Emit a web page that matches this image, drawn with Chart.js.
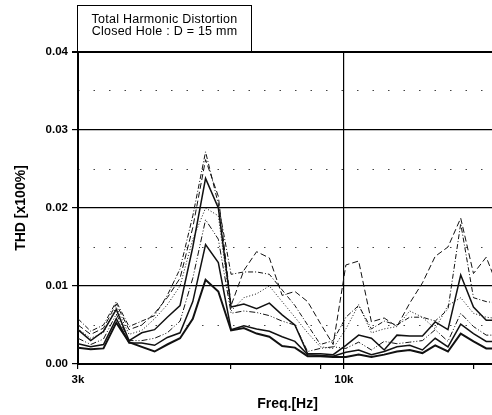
<!DOCTYPE html>
<html>
<head>
<meta charset="utf-8">
<script src="https://cdn.jsdelivr.net/npm/chart.js@4.4.1/dist/chart.umd.min.js"></script>
<style>
    body { margin: 0; background: #fff; overflow: hidden; }
    .wrap { position: relative; width: 492px; height: 415px; overflow: hidden; }
    .chart_box { position: absolute; left: 0; top: 0; width: 497px; height: 415px; }
    .legend_box {
        position: absolute;
        left: 77px;
        top: 5px;
        width: 175px;
        height: 47px;
        box-sizing: border-box;
        border: 1.5px solid #000;
        border-bottom: none;
        padding-top: 8px;
        font-family: "Liberation Sans", Arial, sans-serif;
        font-size: 12.5px;
        letter-spacing: 0.25px;
        line-height: 11.5px;
        text-align: center;
        color: #000;
        background: transparent;
    }
</style>
</head>
<body>
<div class="wrap">
    <div class="chart_box"><canvas id="thd"></canvas></div>
    <div class="legend_box">Total Harmonic Distortion<br>Closed Hole : D = 15 mm</div>
</div>
<script>
// frequencies (Hz), semitone steps from 3 kHz
const FREQS = [
    3000, 3178, 3367, 3568, 3780, 4004, 4243, 4495, 4762, 5045, 5345, 5663,
    6000, 6357, 6735, 7135, 7560, 8009, 8485, 8990, 9524, 10091, 10691, 11326,
    12000, 12714, 13470, 14270, 15119, 16018, 16970, 17980, 19049, 20182,
];

// THD readings, one array per curve
const S1 = [
    0.0021, 0.0019, 0.002, 0.0053, 0.0028, 0.0022, 0.0016, 0.0025, 0.0033, 0.0058, 0.0108, 0.0093,
    0.0043, 0.0046, 0.0039, 0.0035, 0.0023, 0.0021, 0.001, 0.001, 0.0009, 0.0009, 0.0012, 0.0009,
    0.0012, 0.0016, 0.0018, 0.0014, 0.0024, 0.0016, 0.0039, 0.0029, 0.002, 0.002,
];
const S2 = [
    0.0026, 0.0022, 0.0025, 0.0058, 0.0027, 0.0027, 0.0024, 0.0034, 0.004, 0.008, 0.0153, 0.013,
    0.0044, 0.0049, 0.0045, 0.0042, 0.0035, 0.0029, 0.0012, 0.0011, 0.001, 0.0015, 0.0018, 0.0012,
    0.0016, 0.0022, 0.0024, 0.0018, 0.0033, 0.0022, 0.0051, 0.0039, 0.0029, 0.0029,
];
const S3 = [
    0.0044, 0.003, 0.0042, 0.007, 0.003, 0.004, 0.0044, 0.006, 0.0075, 0.015, 0.0238, 0.02,
    0.0073, 0.0077, 0.0071, 0.0078, 0.0063, 0.005, 0.0013, 0.0013, 0.0012, 0.0024, 0.0037, 0.0033,
    0.0018, 0.0037, 0.0036, 0.0036, 0.0054, 0.0044, 0.0114, 0.0073, 0.0056, 0.0056,
];
const S4 = [
    0.0033, 0.0025, 0.0032, 0.0064, 0.003, 0.003, 0.0033, 0.004, 0.0055, 0.011, 0.0185, 0.016,
    0.0065, 0.0068, 0.0066, 0.0062, 0.0055, 0.005, 0.0016, 0.002, 0.0022, 0.002, 0.0028, 0.0018,
    0.0029, 0.0026, 0.0028, 0.003, 0.0044, 0.0029, 0.0065, 0.0048, 0.0037, 0.0037,
];
const S5 = [
    0.0045, 0.0033, 0.004, 0.0073, 0.0038, 0.0043, 0.0058, 0.0076, 0.01, 0.016, 0.02, 0.019,
    0.0068, 0.0085, 0.009, 0.01, 0.008, 0.006, 0.004, 0.0022, 0.002, 0.0045, 0.0076, 0.004,
    0.0045, 0.0048, 0.0068, 0.006, 0.0045, 0.0075, 0.0085, 0.0065, 0.006, 0.0058,
];
const S6 = [
    0.005, 0.0038, 0.0046, 0.0077, 0.0044, 0.005, 0.0065, 0.0085, 0.011, 0.0175, 0.0262, 0.0215,
    0.0075, 0.012, 0.0144, 0.0136, 0.0088, 0.0093, 0.008, 0.0052, 0.0025, 0.0127, 0.0132, 0.0054,
    0.0059, 0.0048, 0.0078, 0.0104, 0.0138, 0.015, 0.0187, 0.0116, 0.0137, 0.0095,
];
const S7 = [
    0.0058, 0.0042, 0.005, 0.008, 0.0048, 0.0055, 0.0062, 0.0088, 0.0122, 0.019, 0.0272, 0.0205,
    0.0115, 0.0118, 0.0118, 0.0115, 0.0095, 0.0075, 0.005, 0.0025, 0.003, 0.006, 0.0075, 0.0045,
    0.0055, 0.005, 0.006, 0.006, 0.0055, 0.007, 0.018, 0.0085, 0.008, 0.0078,
];

const X_TICKS = [3000, 6000, 9000, 10000, 18000];
const X_LABELS = { 3000: "3k", 10000: "10k" };
const Y_TICKS = [0, 0.01, 0.02, 0.03, 0.04];
const Y_MINOR = [0.005, 0.015, 0.025, 0.035];

function curve(values, dash, width) {
    return {
        data: FREQS.map((f, i) => ({ x: f, y: values[i] })),
        borderColor: "#111",
        borderWidth: width,
        borderDash: dash,
        pointRadius: 0,
        tension: 0,
        fill: false,
    };
}

const tickFont = { family: "'Liberation Sans', Arial, sans-serif", size: 11.5, weight: "bold" };
const titleFont = { family: "'Liberation Sans', Arial, sans-serif", size: 14, weight: "bold" };

new Chart(document.getElementById("thd"), {
    type: "line",
    data: {
        datasets: [
            curve(S7, [5, 2, 1, 2], 1),
            curve(S6, [6, 3], 1),
            curve(S5, [1, 2], 1),
            curve(S4, [6, 2, 1, 2, 1, 2], 1),
            curve(S3, [], 1.5),
            curve(S2, [], 1.5),
            curve(S1, [], 2),
        ],
    },
    options: {
        responsive: true,
        maintainAspectRatio: false,
        animation: false,
        layout: { padding: { top: 52, left: 0, right: 0, bottom: 0 } },
        plugins: {
            legend: { display: false },
            tooltip: { enabled: false },
        },
        scales: {
            x: {
                type: "logarithmic",
                min: 3000,
                max: 20000,
                afterBuildTicks: (scale) => {
                    scale.ticks = X_TICKS.map((v) => ({ value: v }));
                },
                afterFit: (scale) => {
                    scale.height = 51;
                },
                ticks: {
                    autoSkip: false,
                    maxRotation: 0,
                    padding: 4,
                    color: "#000",
                    font: tickFont,
                    callback: (v) => X_LABELS[v] || "",
                },
                grid: {
                    // only 10k gets a line across the plot
                    color: (ctx) => (ctx.tick && ctx.tick.value === 10000 ? "#000" : "rgba(0,0,0,0)"),
                    lineWidth: 1.2,
                    tickColor: "#000",
                    tickLength: 5,
                },
                border: { color: "#000", width: 2 },
                title: {
                    display: true,
                    text: "Freq.[Hz]",
                    color: "#000",
                    font: titleFont,
                    padding: { top: 0, bottom: 2 },
                },
            },
            y: {
                min: 0,
                max: 0.04,
                weight: 0,
                afterBuildTicks: (scale) => {
                    scale.ticks = Y_TICKS.map((v) => ({ value: v }));
                },
                afterFit: (scale) => {
                    scale.width = 78;
                },
                ticks: {
                    padding: 4,
                    color: "#000",
                    font: tickFont,
                    callback: (v) => Number(v).toFixed(2),
                },
                grid: {
                    color: (ctx) => (ctx.tick && ctx.tick.value === 0 ? "rgba(0,0,0,0)" : "#000"),
                    lineWidth: (ctx) => (ctx.tick && ctx.tick.value === 0.04 ? 2 : 1.2),
                    tickColor: "#000",
                    tickLength: 6,
                },
                border: { color: "#000", width: 2 },
                title: {
                    display: true,
                    text: "THD [x100%]",
                    color: "#000",
                    font: titleFont,
                    padding: { top: 13, bottom: 0 },
                },
            },
            // sparse dotted lines at the half steps
            yMinor: {
                type: "linear",
                position: "left",
                weight: -1,
                min: 0,
                max: 0.04,
                afterBuildTicks: (scale) => {
                    scale.ticks = Y_MINOR.map((v) => ({ value: v }));
                },
                afterFit: (scale) => {
                    scale.width = 0;
                },
                ticks: { display: false },
                grid: {
                    color: "#444",
                    lineWidth: 1,
                    drawTicks: false,
                },
                border: { display: false, dash: [1.5, 14] },
            },
        },
    },
});
</script>
</body>
</html>
